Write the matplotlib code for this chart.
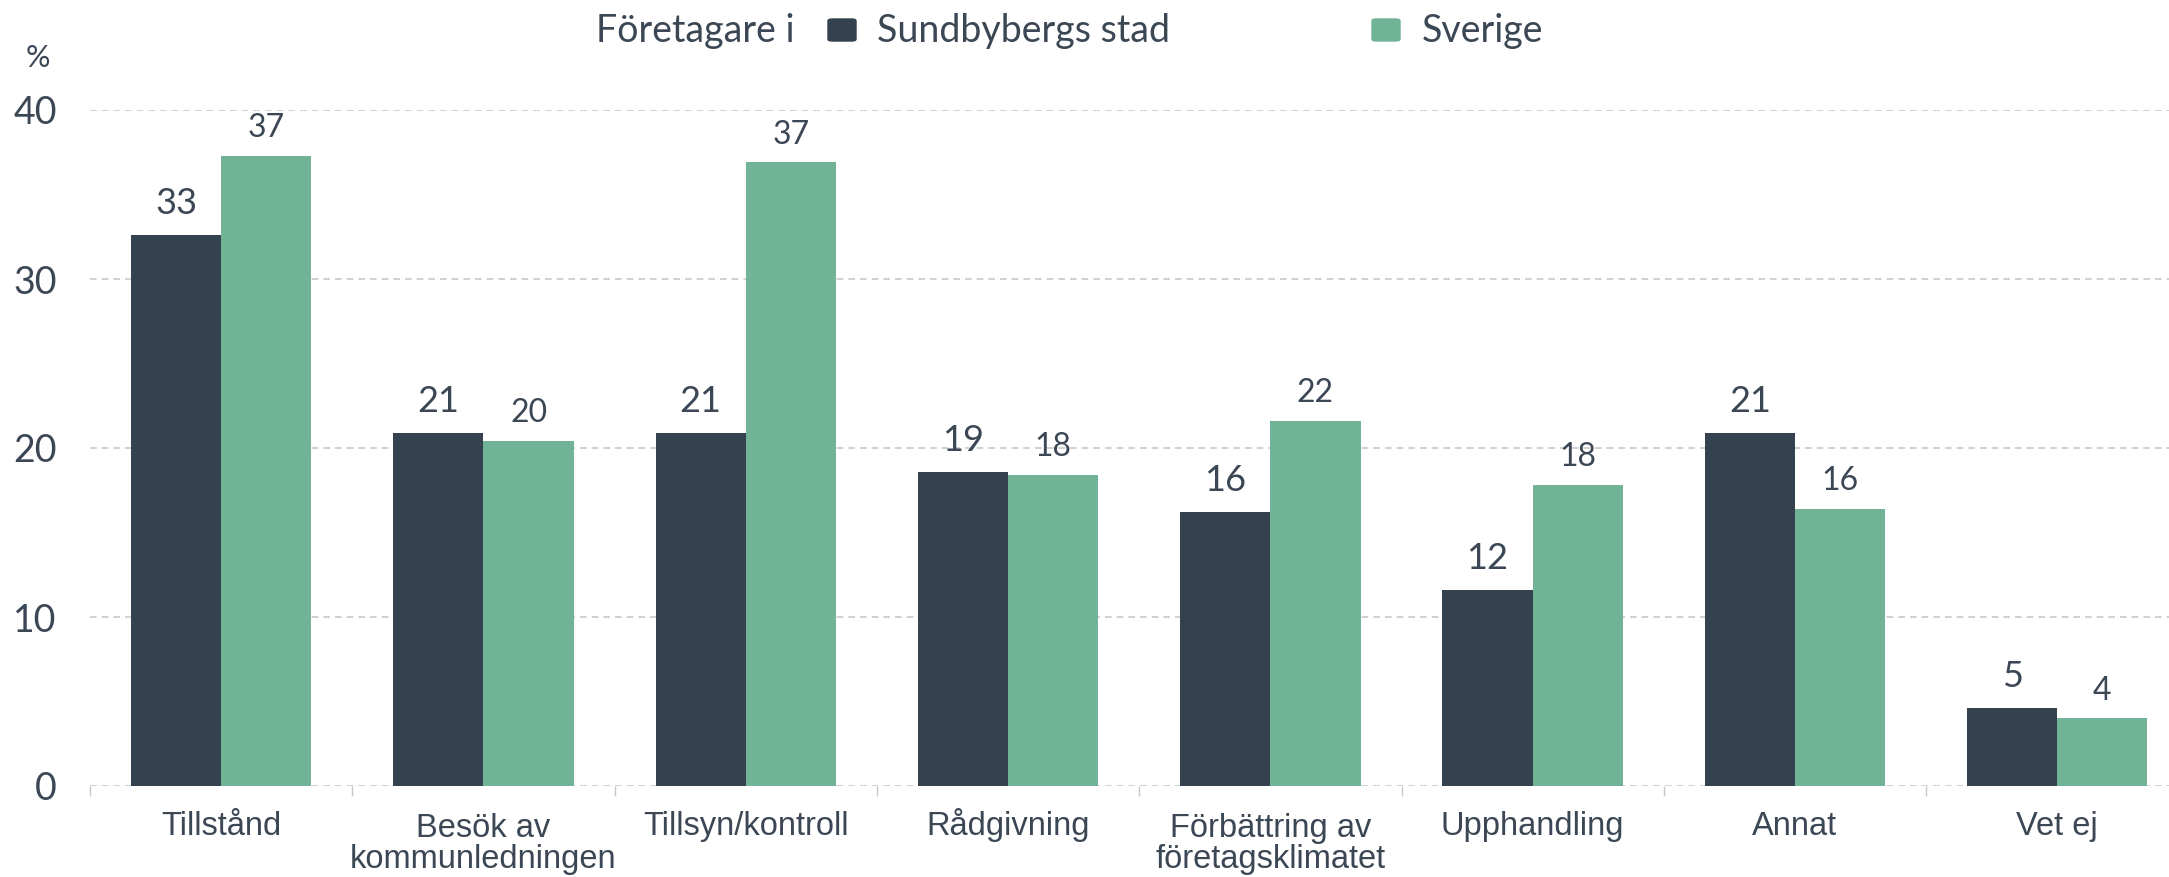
import matplotlib
matplotlib.use("Agg")
import matplotlib.pyplot as plt
from matplotlib.patches import FancyBboxPatch
from matplotlib.transforms import ScaledTranslation
import numpy as np

categories = ["Tillstånd", "Besök av\nkommunledningen", "Tillsyn/kontroll", "Rådgivning",
              "Förbättring av\nföretagsklimatet", "Upphandling", "Annat", "Vet ej"]
sundbyberg = [32.6, 20.9, 20.9, 18.6, 16.2, 11.6, 20.9, 4.6]
sverige = [37.3, 20.4, 36.9, 18.4, 21.6, 17.8, 16.4, 4.0]
sundbyberg_labels = ["33", "21", "21", "19", "16", "12", "21", "5"]
sverige_labels = ["37", "20", "37", "18", "22", "18", "16", "4"]
yticks = [0, 10, 20, 30, 40]

dark = "#34414e"
green = "#70b396"
txt = "#3b4754"
grid = "#c8c8c8"
geo = "Lato"

def main():
    fig = plt.figure(figsize=(21.69, 8.77), dpi=100)
    ax = fig.add_axes([90 / 2169, 1 - 786 / 877, 8 * 262.3 / 2169, 676 / 877])

    x = np.arange(len(categories))
    w = 0.344
    b1 = ax.bar(x - w / 2, sundbyberg, w, color=dark, zorder=2)
    b2 = ax.bar(x + w / 2, sverige, w, color=green, zorder=2)

    for bar, lab in zip(b1, sundbyberg_labels):
        ax.annotate(lab, (bar.get_x() + bar.get_width() / 2, bar.get_height()),
                    xytext=(0, 15), textcoords="offset points", ha="center", va="baseline",
                    fontsize=26, family=geo, color=txt)
    for bar, lab in zip(b2, sverige_labels):
        ax.annotate(lab, (bar.get_x() + bar.get_width() / 2, bar.get_height()),
                    xytext=(0, 13.5), textcoords="offset points", ha="center", va="baseline",
                    fontsize=23, family=geo, color=txt)

    ax.set_xlim(-0.5, len(categories) - 0.5)
    ax.set_ylim(0, 40)
    ax.set_yticks(yticks)
    ax.set_yticklabels([str(t) for t in yticks], family=geo, fontsize=27, color=txt)
    for t in yticks:
        ax.axhline(t, color=grid, lw=1.2, ls=(0, (4, 3)), zorder=1)

    ax.set_xticks(x)
    ax.set_xticklabels(categories, family="Liberation Sans", fontsize=23.5, color=txt,
                       linespacing=1.0, va="baseline")
    ax.set_xticks(np.arange(len(categories)) - 0.5, minor=True)
    ax.tick_params(axis="x", which="major", length=0, pad=35)
    ax.tick_params(axis="x", which="minor", length=7, color=grid, width=1)
    ax.tick_params(axis="y", length=0, pad=24)
    for s in ax.spines.values():
        s.set_visible(False)

    # push two-line labels down so that their first line lines up with the others
    for lab in ax.get_xticklabels():
        if "\n" in lab.get_text():
            lab.set_transform(lab.get_transform() +
                              ScaledTranslation(0, -0.33, fig.dpi_scale_trans))

    fig.text(38 / 2169, 1 - 58 / 877, "%", family=geo, fontsize=22, color=txt,
             ha="center", va="center")

    # legend
    base = 1 - 42 / 877
    fig.text(596 / 2169, base, "Företagare i", family=geo, fontsize=27, color=txt, va="baseline")
    fig.text(877 / 2169, base, "Sundbybergs stad", family=geo, fontsize=27, color=txt, va="baseline")
    fig.text(1422 / 2169, base, "Sverige", family=geo, fontsize=27, color=txt, va="baseline")
    mw, mh = 28 / 2169, 22 / 877
    for cx, c in [(842 / 2169, dark), (1386 / 2169, green)]:
        fig.patches.append(FancyBboxPatch((cx - mw / 2, 1 - 30 / 877 - mh / 2), mw, mh,
                                          boxstyle="round,pad=0,rounding_size=0.002",
                                          transform=fig.transFigure, color=c, figure=fig))

    fig.savefig("out.png", dpi=100)


if __name__ == "__main__":
    main()
